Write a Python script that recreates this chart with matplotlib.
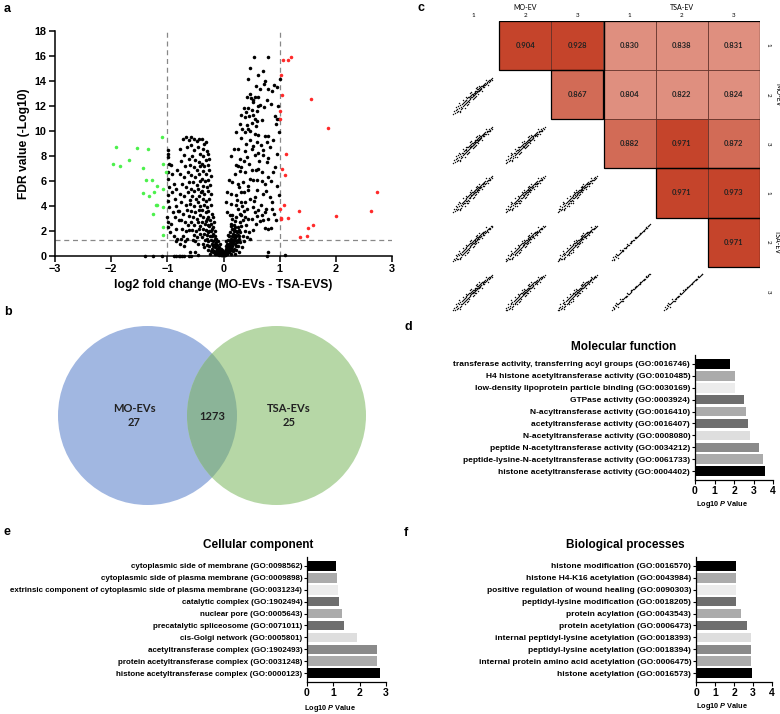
import numpy as np
import matplotlib
matplotlib.use("Agg")
import matplotlib.pyplot as plt
from matplotlib.patches import Circle, Rectangle
from matplotlib.colors import ListedColormap, BoundaryNorm

plt.rcParams['font.family'] = ['Liberation Sans', 'DejaVu Sans']
plt.rcParams['font.weight'] = 'bold'
plt.rcParams['mathtext.fontset'] = 'custom'
plt.rcParams['mathtext.it'] = 'Liberation Sans:italic:bold'
plt.rcParams['mathtext.rm'] = 'Liberation Sans:bold'

W, H = 780, 714

# ---------------- data ----------------
# volcano: (log2 fold change, -log10 FDR)
up_pts = [(1.20, 15.95), (1.06, 15.66), (1.14, 15.66), (1.02, 14.46), (1.04, 12.86), (1.56, 12.6),
          (1.01, 11.58), (1.01, 11.0), (1.86, 10.27), (1.12, 8.16), (1.04, 7.0), (1.10, 6.48),
          (2.73, 5.15), (1.07, 4.06), (1.01, 3.79), (1.35, 3.58), (2.63, 3.6), (2.0, 3.2),
          (1.02, 3.04), (1.03, 2.97), (1.14, 3.02), (1.60, 2.46), (1.51, 2.27), (1.49, 1.63),
          (1.36, 1.55)]
down_pts = [(-1.10, 9.54), (-1.91, 8.73), (-1.54, 8.65), (-1.35, 8.55), (-1.69, 7.72), (-1.96, 7.40),
            (-1.85, 7.21), (-1.08, 7.40), (-1.44, 7.05), (-1.03, 6.73), (-1.38, 6.12), (-1.27, 6.12),
            (-1.19, 5.61), (-1.43, 5.05), (-1.24, 5.13), (-1.08, 5.34), (-1.32, 4.78), (-1.21, 4.11),
            (-1.19, 4.09), (-1.08, 3.95), (-1.25, 3.37), (-1.07, 2.32), (-1.07, 1.66)]
ns_pts = [
    (-0.99, 8.5), (-0.98, 8.2), (-0.99, 7.9), (-0.97, 7.4), (-0.98, 6.7), (-0.99, 6.2), (-0.97, 5.5),
    (-0.99, 4.9), (-0.98, 4.4), (-0.97, 3.9), (-1.0, 3.1), (-0.98, 2.7), (-0.99, 2.3), (-0.96, 1.9),
    (-0.93, 7.3), (-0.91, 6.6), (-0.88, 5.8), (-0.92, 5.1), (-0.86, 4.6), (-0.9, 3.5), (-0.87, 3.1),
    (-0.93, 2.6), (-0.85, 2.2), (-0.89, 1.6), (-0.82, 6.9), (-0.84, 4.0), (-0.8, 2.9), (-0.83, 1.4),
    (-0.81, 3.6), (-0.85, 5.4),
    (-0.72, 9.4), (-0.66, 9.5), (-0.62, 9.3), (-0.78, 8.6), (-0.7, 8.1), (-0.65, 8.7), (-0.75, 7.6),
    (-0.68, 7.2), (-0.62, 7.8), (-0.77, 6.6), (-0.71, 6.3), (-0.64, 6.7), (-0.74, 5.8), (-0.67, 5.5),
    (-0.61, 5.9), (-0.78, 5.0), (-0.7, 4.8), (-0.63, 5.1), (-0.75, 4.3), (-0.66, 4.1), (-0.6, 4.5),
    (-0.79, 3.6), (-0.72, 3.4), (-0.65, 3.7), (-0.61, 3.2), (-0.76, 2.9), (-0.69, 2.7), (-0.63, 2.5),
    (-0.74, 2.2), (-0.67, 2.0), (-0.61, 2.1), (-0.72, 1.6), (-0.65, 1.4), (-0.69, 1.2),
    (-0.57, 9.5), (-0.52, 9.4), (-0.47, 9.2), (-0.43, 9.4), (-0.58, 8.9), (-0.53, 8.5), (-0.45, 8.7),
    (-0.41, 8.2), (-0.56, 8.0), (-0.5, 7.7), (-0.44, 7.5), (-0.59, 7.3), (-0.53, 7.1), (-0.47, 6.9),
    (-0.41, 7.2), (-0.57, 6.5), (-0.5, 6.3), (-0.44, 6.6), (-0.55, 5.9), (-0.48, 5.7), (-0.42, 6.0),
    (-0.58, 5.4), (-0.52, 5.2), (-0.45, 5.4), (-0.4, 5.1), (-0.56, 4.8), (-0.49, 4.6), (-0.43, 4.8),
    (-0.59, 4.2), (-0.53, 4.0), (-0.46, 4.3), (-0.41, 4.0), (-0.57, 3.6), (-0.5, 3.5), (-0.44, 3.7),
    (-0.55, 3.1), (-0.48, 3.0), (-0.42, 3.3), (-0.58, 2.7), (-0.52, 2.5), (-0.46, 2.7), (-0.41, 2.4),
    (-0.56, 2.1), (-0.49, 2.0), (-0.44, 2.2), (-0.53, 1.7), (-0.47, 1.5), (-0.42, 1.8), (-0.5, 1.2),
    (-0.45, 1.0), (-0.55, 1.3),
    (-0.38, 9.4), (-0.35, 9.0), (-0.31, 9.1), (-0.37, 8.6), (-0.3, 8.4), (-0.27, 8.2), (-0.36, 8.0),
    (-0.32, 7.7), (-0.25, 7.8), (-0.39, 7.4), (-0.34, 7.2), (-0.28, 7.3), (-0.37, 6.8), (-0.31, 6.6),
    (-0.26, 6.9), (-0.22, 6.4), (-0.38, 6.2), (-0.33, 6.0), (-0.27, 6.1), (-0.36, 5.6), (-0.3, 5.5),
    (-0.24, 5.7), (-0.39, 5.2), (-0.34, 5.0), (-0.28, 5.2), (-0.22, 5.0), (-0.37, 4.6), (-0.31, 4.4),
    (-0.25, 4.6), (-0.35, 4.1), (-0.29, 3.9), (-0.23, 4.1), (-0.38, 3.7), (-0.32, 3.5), (-0.27, 3.6),
    (-0.21, 3.4), (-0.36, 3.1), (-0.3, 3.0), (-0.24, 2.9), (-0.39, 2.7), (-0.33, 2.6), (-0.28, 2.5),
    (-0.22, 2.6), (-0.37, 2.2), (-0.31, 2.1), (-0.26, 2.0), (-0.2, 2.2), (-0.35, 1.8), (-0.29, 1.7),
    (-0.24, 1.6), (-0.38, 1.5), (-0.33, 1.3), (-0.27, 1.2), (-0.22, 1.3), (-0.36, 1.0), (-0.3, 0.9),
    (-0.25, 0.8), (-0.2, 1.0), (-0.34, 0.7), (-0.28, 0.5), (-0.23, 0.4),
    (-0.19, 3.1), (-0.17, 2.7), (-0.18, 2.3), (-0.15, 2.0), (-0.19, 1.8), (-0.16, 1.6), (-0.13, 1.4),
    (-0.18, 1.2), (-0.14, 1.1), (-0.11, 0.9), (-0.19, 0.8), (-0.16, 0.7), (-0.12, 0.6), (-0.09, 0.5),
    (-0.17, 0.4), (-0.13, 0.35), (-0.1, 0.3), (-0.07, 0.25), (-0.15, 0.2), (-0.11, 0.15), (-0.08, 0.1),
    (-0.05, 0.1), (-0.03, 0.05), (-0.12, 0.5), (-0.06, 0.4), (-0.04, 0.2), (-0.02, 0.1), (-0.14, 0.9),
    (-0.08, 0.7), (-0.1, 1.2),
    (-0.24, 0.2), (-0.21, 0.6), (-0.19, 0.3), (-0.16, 1.0), (-0.13, 0.8), (-0.1, 0.6), (-0.09, 0.2),
    (-0.06, 0.15), (-0.05, 0.55), (-0.03, 0.3), (-0.01, 0.15), (0.0, 0.05), (-0.02, 0.45), (-0.07, 1.0),
    (-0.15, 1.4), (-0.2, 1.6), (-0.23, 2.0), (-0.26, 2.4), (-0.28, 1.9), (-0.3, 1.4), (-0.32, 2.8),
    (-0.27, 3.1),
    (-1.4, 0.02), (-1.25, 0.02), (-1.1, 0.02), (-0.88, 0.02), (-0.84, 0.02), (-0.8, 0.02), (-0.77, 0.02),
    (-0.73, 0.02), (-0.7, 0.02), (-0.62, 0.02), (-0.58, 0.02), (-0.45, 0.05), (-0.6, 0.3), (-0.5, 0.3),
    (-0.78, 1.0), (-0.85, 1.2), (-0.75, 1.35), (-0.7, 0.8),
    (0.02, 0.1), (0.04, 0.2), (0.06, 0.3), (0.03, 0.4), (0.08, 0.5), (0.05, 0.6), (0.1, 0.7), (0.07, 0.8),
    (0.12, 0.9), (0.09, 1.0), (0.14, 1.1), (0.11, 1.2), (0.16, 1.3), (0.13, 1.4), (0.18, 1.5), (0.15, 1.6),
    (0.2, 1.7), (0.17, 1.8), (0.12, 1.9), (0.19, 2.0), (0.15, 2.2), (0.21, 2.3), (0.18, 2.5), (0.13, 2.6),
    (0.2, 2.8), (0.16, 3.0), (0.11, 3.3), (0.06, 0.15), (0.1, 0.3), (0.14, 0.45), (0.18, 0.6), (0.02, 0.35),
    (0.15, 0.8), (0.2, 1.0), (0.22, 1.2), (0.08, 1.3), (0.1, 1.6), (0.06, 1.0), (0.04, 0.8), (0.13, 0.2),
    (0.01, 0.25), (0.03, 0.1), (0.05, 0.45), (0.07, 0.6), (0.09, 0.35), (0.11, 0.5), (0.12, 0.75),
    (0.14, 0.65), (0.16, 1.0), (0.17, 1.15), (0.19, 1.3), (0.21, 1.45), (0.23, 1.6), (0.24, 1.9),
    (0.26, 2.3), (0.17, 0.4), (0.22, 0.8), (0.25, 1.3), (0.27, 1.6), (0.19, 2.2), (0.14, 2.4), (0.08, 1.7),
    (0.05, 1.2),
    (0.23, 0.5), (0.26, 0.8), (0.24, 1.1), (0.28, 1.4), (0.25, 1.7), (0.3, 1.9), (0.27, 2.1), (0.32, 2.4),
    (0.29, 2.7), (0.34, 2.9), (0.23, 3.1), (0.31, 3.3), (0.36, 3.6), (0.26, 3.8), (0.33, 4.0), (0.38, 4.3),
    (0.24, 4.5), (0.3, 1.1), (0.35, 1.6), (0.38, 2.0), (0.4, 2.5), (0.22, 2.0), (0.28, 0.3), (0.33, 0.7),
    (0.37, 1.2), (0.42, 1.5), (0.45, 1.9), (0.2, 0.2),
    (0.54, 15.9), (0.79, 15.9), (0.47, 15.07), (0.71, 14.78), (0.44, 14.2), (1.0, 14.2), (0.74, 14.0),
    (0.72, 13.74), (0.80, 13.39), (0.87, 13.2), (0.65, 13.39), (0.95, 13.55), (0.42, 12.72), (0.49, 12.64),
    (0.56, 12.72), (0.61, 12.72), (0.53, 12.51), (0.65, 12.06), (0.62, 11.98), (0.37, 11.84), (0.44, 11.84),
    (0.50, 11.66), (0.97, 12.0), (0.31, 11.26), (0.38, 11.12), (0.46, 11.2), (0.53, 11.31), (0.56, 10.94),
    (0.92, 11.2), (0.96, 10.94), (0.98, 11.0), (0.29, 10.59), (0.41, 10.46), (0.50, 10.67), (0.59, 10.78),
    (0.44, 10.19), (0.22, 9.9), (0.38, 9.95), (0.56, 9.79), (0.62, 9.71), (0.80, 9.6), (0.99, 9.95),
    (0.32, 9.41), (0.47, 9.28), (0.59, 9.15), (0.77, 9.15), (0.19, 8.59), (0.26, 8.54), (0.38, 8.38),
    (0.50, 8.54), (0.62, 8.27), (0.71, 8.46), (0.13, 7.99), (0.29, 7.78), (0.41, 7.91), (0.56, 8.05),
    (0.80, 7.84), (0.77, 7.52), (0.22, 7.25), (0.32, 7.12), (0.38, 6.72), (0.50, 6.86), (0.62, 6.99),
    (0.68, 6.72), (0.89, 6.72), (0.10, 6.06), (0.16, 5.92), (0.25, 5.79), (0.34, 5.92), (0.47, 6.19),
    (0.59, 6.06), (0.74, 5.79), (0.07, 5.12), (0.13, 4.99), (0.22, 4.86), (0.32, 5.12), (0.44, 5.25),
    (0.56, 4.72), (0.71, 4.99), (0.83, 4.72), (0.98, 4.86), (0.04, 4.32), (0.13, 4.19), (0.22, 4.06),
    (0.32, 4.32), (0.41, 3.79), (0.53, 3.93), (0.62, 3.66), (0.74, 3.52), (0.86, 3.79), (0.07, 3.52),
    (0.16, 3.26), (0.29, 3.39), (0.38, 3.12), (0.50, 2.99), (0.59, 3.2), (0.71, 2.86), (0.80, 2.99),
    (0.85, 2.24), (0.73, 2.24),
    (0.48, 1.4), (0.52, 2.1), (0.58, 2.6), (0.44, 3.0), (0.65, 2.8), (0.69, 3.3), (0.56, 3.5), (0.47, 4.6),
    (0.55, 4.4), (0.6, 5.3), (0.66, 4.1), (0.36, 5.1), (0.27, 5.5), (0.43, 5.6), (0.52, 6.1), (0.75, 5.2),
    (0.79, 6.3), (0.68, 6.0), (0.57, 6.9), (0.2, 6.6), (0.3, 6.8), (0.45, 7.4), (0.64, 7.6), (0.7, 8.1),
    (0.36, 7.6), (0.25, 7.2), (0.52, 8.8), (0.66, 8.9), (0.4, 9.0), (0.83, 8.7), (0.73, 9.6), (0.47, 10.0),
    (0.33, 10.2), (0.58, 10.4), (0.68, 10.9), (0.4, 11.5), (0.6, 11.6), (0.72, 11.9), (0.52, 12.3),
    (0.47, 13.0), (0.58, 13.6), (0.62, 14.5), (0.78, 12.5), (0.85, 12.2), (0.9, 13.7), (0.94, 10.6),
    (0.88, 9.3), (0.92, 7.1), (0.95, 5.6), (0.86, 4.3), (0.9, 3.4), (0.93, 2.9), (0.8, 2.2), (0.76, 3.8),
    (0.85, 6.0), (0.96, 8.2), (0.77, 0.02), (0.8, 0.35), (1.1, 0.1),
]

# venn counts
venn_names = ["MO-EVs", "TSA-EVs"]
venn_only = [27, 25]
venn_shared = 1273

# Pearson correlation between samples (upper triangle)
samples = ["1", "2", "3", "1", "2", "3"]
groups = ["MO-EV", "TSA-EV"]
corr = {(0, 1): 0.904, (0, 2): 0.928, (0, 3): 0.830, (0, 4): 0.838, (0, 5): 0.831,
        (1, 2): 0.867, (1, 3): 0.804, (1, 4): 0.822, (1, 5): 0.824,
        (2, 3): 0.882, (2, 4): 0.971, (2, 5): 0.872,
        (3, 4): 0.971, (3, 5): 0.973,
        (4, 5): 0.971}
# scaled intensity pairs for the small scatter panels
loose_pairs = [
    (0.92, 0.88), (0.89, 0.86), (0.87, 0.82), (0.85, 0.83), (0.84, 0.79), (0.82, 0.80), (0.80, 0.76),
    (0.79, 0.78), (0.77, 0.73), (0.76, 0.76), (0.75, 0.71), (0.73, 0.74), (0.72, 0.69), (0.71, 0.72),
    (0.70, 0.66), (0.68, 0.70), (0.67, 0.64), (0.66, 0.68), (0.65, 0.62), (0.64, 0.66), (0.63, 0.60),
    (0.62, 0.64), (0.61, 0.57), (0.60, 0.62), (0.59, 0.56), (0.58, 0.61), (0.57, 0.54), (0.56, 0.58),
    (0.55, 0.52), (0.54, 0.57), (0.53, 0.50), (0.52, 0.55), (0.51, 0.48), (0.50, 0.53), (0.49, 0.46),
    (0.48, 0.51), (0.47, 0.44), (0.46, 0.50), (0.45, 0.42), (0.44, 0.48), (0.43, 0.40), (0.42, 0.46),
    (0.41, 0.38), (0.40, 0.44), (0.39, 0.36), (0.38, 0.42), (0.37, 0.33), (0.36, 0.40), (0.35, 0.31),
    (0.34, 0.37), (0.33, 0.29), (0.32, 0.35), (0.31, 0.26), (0.30, 0.33), (0.29, 0.24), (0.28, 0.31),
    (0.27, 0.22), (0.26, 0.28), (0.25, 0.18), (0.24, 0.26), (0.22, 0.20), (0.21, 0.14), (0.20, 0.24),
    (0.19, 0.11), (0.18, 0.18), (0.16, 0.22), (0.15, 0.10), (0.14, 0.15), (0.12, 0.08), (0.11, 0.19),
    (0.10, 0.12), (0.08, 0.06), (0.07, 0.10), (0.05, 0.04), (0.30, 0.18), (0.35, 0.24), (0.26, 0.36),
    (0.40, 0.30), (0.45, 0.55), (0.50, 0.40), (0.55, 0.46), (0.60, 0.50), (0.62, 0.70), (0.68, 0.58),
    (0.74, 0.66), (0.78, 0.84), (0.82, 0.72), (0.58, 0.66), (0.52, 0.44), (0.42, 0.52), (0.33, 0.42),
    (0.20, 0.08), (0.17, 0.28), (0.38, 0.26), (0.48, 0.38), (0.56, 0.64),
    (0.66, 0.63), (0.70, 0.70), (0.74, 0.72), (0.60, 0.58), (0.54, 0.52), (0.48, 0.47), (0.44, 0.43),
    (0.86, 0.80), (0.90, 0.84), (0.64, 0.60), (0.57, 0.57), (0.50, 0.48),
]
tight_pairs = [
    (0.95, 0.91), (0.93, 0.90), (0.91, 0.87), (0.89, 0.86), (0.87, 0.83), (0.85, 0.82), (0.83, 0.79),
    (0.81, 0.78), (0.79, 0.75), (0.77, 0.74), (0.75, 0.71), (0.73, 0.70), (0.71, 0.67), (0.69, 0.66),
    (0.67, 0.63), (0.65, 0.62), (0.63, 0.59), (0.61, 0.58), (0.59, 0.55), (0.57, 0.54), (0.55, 0.51),
    (0.53, 0.50), (0.51, 0.47), (0.49, 0.46), (0.47, 0.43), (0.45, 0.42), (0.43, 0.39), (0.41, 0.38),
    (0.39, 0.35), (0.37, 0.34), (0.35, 0.31), (0.33, 0.30), (0.31, 0.27), (0.29, 0.26), (0.27, 0.23),
    (0.25, 0.22), (0.23, 0.18), (0.21, 0.19), (0.19, 0.14), (0.17, 0.16), (0.15, 0.10), (0.12, 0.13),
    (0.10, 0.06), (0.22, 0.12), (0.28, 0.30), (0.18, 0.22), (0.34, 0.27), (0.14, 0.07), (0.44, 0.44),
    (0.60, 0.60), (0.72, 0.68), (0.52, 0.52), (0.64, 0.61), (0.80, 0.76), (0.86, 0.85), (0.40, 0.36),
]
tight_cells = [(4, 3), (5, 3), (5, 4)]

# GO enrichment (-log10 P), listed top to bottom
mf_terms = ["transferase activity, transferring acyl groups (GO:0016746)",
            "H4 histone acetyltransferase activity (GO:0010485)",
            "low-density lipoprotein particle binding (GO:0030169)",
            "GTPase activity (GO:0003924)",
            "N-acyltransferase activity (GO:0016410)",
            "acetyltransferase activity (GO:0016407)",
            "N-acetyltransferase activity (GO:0008080)",
            "peptide N-acetyltransferase activity (GO:0034212)",
            "peptide-lysine-N-acetyltransferase activity (GO:0061733)",
            "histone acetyltransferase activity (GO:0004402)"]
mf_vals = [1.80, 2.03, 2.06, 2.49, 2.59, 2.71, 2.83, 3.26, 3.50, 3.57]
cc_terms = ["cytoplasmic side of membrane (GO:0098562)",
            "cytoplasmic side of plasma membrane (GO:0009898)",
            "extrinsic component of cytoplasmic side of plasma membrane (GO:0031234)",
            "catalytic complex (GO:1902494)",
            "nuclear pore (GO:0005643)",
            "precatalytic spliceosome (GO:0071011)",
            "cis-Golgi network (GO:0005801)",
            "acetyltransferase complex (GO:1902493)",
            "protein acetyltransferase complex (GO:0031248)",
            "histone acetyltransferase complex (GO:0000123)"]
cc_vals = [1.10, 1.15, 1.19, 1.21, 1.34, 1.42, 1.89, 2.66, 2.66, 2.78]
bp_terms = ["histone modification (GO:0016570)",
            "histone H4-K16 acetylation (GO:0043984)",
            "positive regulation of wound healing (GO:0090303)",
            "peptidyl-lysine modification (GO:0018205)",
            "protein acylation (GO:0043543)",
            "protein acetylation (GO:0006473)",
            "internal peptidyl-lysine acetylation (GO:0018393)",
            "peptidyl-lysine acetylation (GO:0018394)",
            "internal protein amino acid acetylation (GO:0006475)",
            "histone acetylation (GO:0016573)"]
bp_vals = [2.10, 2.10, 2.10, 2.10, 2.35, 2.71, 2.92, 2.92, 2.92, 2.96]

bar_greys = ["#000000", "#ababab", "#ececec", "#6e6e6e", "#ababab",
             "#6e6e6e", "#dedede", "#8a8a8a", "#ababab", "#000000"]


def box(l, t, r, b):
    return [l / W, 1 - b / H, (r - l) / W, (b - t) / H]


fig = plt.figure(figsize=(W / 100, H / 100), dpi=100)


def ftext(x, y, s, **kw):
    fig.text(x / W, 1 - y / H, s, **kw)


# ---------------- a: volcano ----------------
ax = fig.add_axes(box(55, 31, 392, 256))
for pts, col in [(ns_pts, "black"), (down_pts, "#4cf04c"), (up_pts, "#ff2a2a")]:
    xs, ys = zip(*pts)
    ax.scatter(xs, ys, s=6.5, c=col, lw=0, clip_on=False, zorder=3)
ax.axvline(-1, color="#888888", ls=(0, (4, 3)), lw=0.9)
ax.axvline(1, color="#888888", ls=(0, (4, 3)), lw=0.9)
ax.axhline(1.3, color="#888888", ls=(0, (4, 3)), lw=0.9)
ax.set_xlim(-3, 3)
ax.set_ylim(0, 18)
ax.set_xticks(range(-3, 4))
ax.set_yticks(range(0, 19, 2))
for s in ["top", "right"]:
    ax.spines[s].set_visible(False)
for s in ["left", "bottom"]:
    ax.spines[s].set_linewidth(1.1)
ax.tick_params(labelsize=7.8, width=1.1, length=4, pad=2)
ax.set_xlabel("log2 fold change (MO-EVs - TSA-EVS)", fontsize=8.7, fontweight="bold", labelpad=3)
ax.set_ylabel("FDR value (-Log10)", fontsize=8.7, fontweight="bold", labelpad=3)

# ---------------- b: venn ----------------
axb = fig.add_axes(box(0, 300, 400, 520))
axb.set_xlim(0, 400)
axb.set_ylim(520, 300)
axb.axis("off")
c_blue = Circle((147.5, 415.5), 89.5, fc="#a1b7e1", ec="none")
c_green = Circle((276.5, 415.5), 89.5, fc="#b6d7a6", ec="none")
axb.add_patch(c_blue)
axb.add_patch(c_green)
ov = Circle((276.5, 415.5), 89.5, fc="#8bb498", ec="none")
axb.add_patch(ov)
ov.set_clip_path(c_blue)
vfont = dict(family=["Lato", "DejaVu Sans"], fontweight="bold", fontsize=8, ha="center", va="center", color="#222222")
axb.text(134, 408, venn_names[0], **vfont)
axb.text(134, 423, str(venn_only[0]), **vfont)
axb.text(289, 408, venn_names[1], **vfont)
axb.text(289, 423, str(venn_only[1]), **vfont)
axb.text(212, 417, str(venn_shared), **vfont)

# ---------------- c: correlation matrix ----------------
axc = fig.add_axes(box(447, 20.7, 760, 316))
axc.set_xlim(0, 6)
axc.set_ylim(6, 0)
axc.axis("off")
cmap = ListedColormap(["#df8f7f", "#d26b56", "#c5442b"])
norm = BoundaryNorm([0.80, 0.85, 0.90, 1.0], cmap.N)
cfont = dict(family=["Lato", "DejaVu Sans"], ha="center", va="center")
for (i, j), v in corr.items():
    axc.add_patch(Rectangle((j, i), 1, 1, fc=cmap(norm(v)), ec="#5a2a22", lw=0.5))
    axc.text(j + 0.5, i + 0.5, f"{v:.3f}", fontsize=5.5, fontweight="bold", color="#222222", **cfont)
# group outlines
axc.add_patch(Rectangle((1, 0), 2, 1, fc="none", ec="black", lw=0.9))
axc.add_patch(Rectangle((2, 1), 1, 1, fc="none", ec="black", lw=0.9))
axc.add_patch(Rectangle((3, 0), 3, 3, fc="none", ec="black", lw=0.9))
axc.add_patch(Rectangle((4, 3), 2, 1, fc="none", ec="black", lw=0.9))
axc.add_patch(Rectangle((5, 4), 1, 1, fc="none", ec="black", lw=0.9))
for i in range(6):
    for j in range(i):
        pairs = tight_pairs if (i, j) in tight_cells else loose_pairs
        px = [j + 0.08 + 0.86 * p[0] for p in pairs]
        py = [i + 0.92 - 0.86 * p[1] for p in pairs]
        axc.scatter(px, py, s=1.1, c="#111111", lw=0)
for k, lab in enumerate(samples):
    axc.text(k + 0.5, -0.1, lab, fontsize=4.5, fontweight="normal", **cfont)
    axc.text(6.15, k + 0.5, lab, fontsize=4.5, fontweight="normal", rotation=-90, **cfont)
axc.text(1.5, -0.27, groups[0], fontsize=5, fontweight="normal", **cfont)
axc.text(4.5, -0.27, groups[1], fontsize=5, fontweight="normal", **cfont)
axc.text(6.34, 1.5, groups[0], fontsize=5, fontweight="normal", rotation=-90, **cfont)
axc.text(6.34, 4.5, groups[1], fontsize=5, fontweight="normal", rotation=-90, **cfont)


# ---------------- d, e, f: GO bars ----------------
def go_panel(rect, terms, vals, xmax, fs):
    a = fig.add_axes(rect)
    y = np.arange(len(terms))[::-1]
    a.barh(y, vals, height=0.8, color=bar_greys, lw=0)
    a.set_yticks(y)
    a.set_yticklabels(terms, fontsize=fs, fontweight="bold")
    a.set_xlim(0, xmax)
    a.set_xticks(range(0, xmax + 1))
    a.set_ylim(-0.75, len(terms) - 0.25)
    for s in ["top", "right"]:
        a.spines[s].set_visible(False)
    for s in ["left", "bottom"]:
        a.spines[s].set_linewidth(0.9)
    a.tick_params(axis="y", length=2.5, width=0.8, pad=1)
    a.tick_params(axis="x", length=3, width=0.8, pad=1.5, labelsize=7.5)
    return a


go_panel(box(695, 355, 773, 480), mf_terms, mf_vals, 4, 6.0)
go_panel(box(307, 557, 386, 682), cc_terms, cc_vals, 3, 5.75)
go_panel(box(696, 557, 772, 682), bp_terms, bp_vals, 4, 6.0)

tfont = dict(fontsize=8.5, fontweight="bold", ha="center", va="center")
ftext(624, 347, "Molecular function", **tfont)
ftext(258, 545, "Cellular component", **tfont)
ftext(625, 545, "Biological processes", **tfont)
lfont = dict(fontsize=5.3, fontweight="bold", ha="center", va="center")
ftext(722, 505, r"Log10 $P$ Value", **lfont)
ftext(330, 708, r"Log10 $P$ Value", **lfont)
ftext(722, 707, r"Log10 $P$ Value", **lfont)

# panel letters
pfont = dict(fontsize=9, fontweight="bold", ha="left", va="center")
ftext(4, 9, "a", **pfont)
ftext(4, 312, "b", **pfont)
ftext(418, 8, "c", **pfont)
ftext(404, 327, "d", **pfont)
ftext(4, 532, "e", **pfont)
ftext(404, 533, "f", **pfont)

fig.savefig("out.png", dpi=100)
